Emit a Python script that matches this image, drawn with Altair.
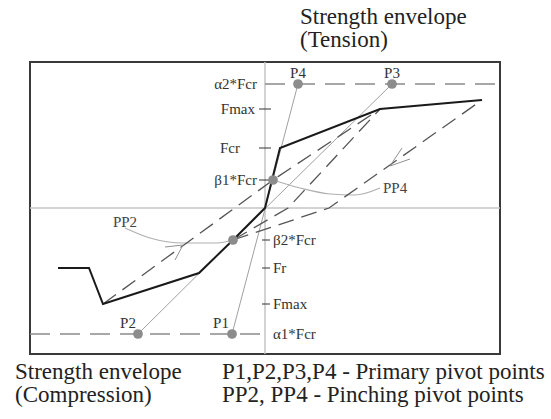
import altair as alt
import pandas as pd

# ---- data (deformation x, force y; arbitrary units) ----
env_x = [-20.7, -17.6, -16.2, -6.6, -3.2, 0.0, 1.5, 11.5, 21.7]
env_y = [-6.0, -6.0, -9.6, -6.5, -3.2, 0.0, 6.0, 9.9, 10.8]

pivot_names = ["P1", "P2", "P3", "P4"]
pivot_x = [-3.3, -12.7, 12.7, 3.3]
pivot_y = [-12.6, -12.6, 12.4, 12.4]
pivot_lx = [-4.4, -13.7, 12.7, 3.3]
pivot_ly = [-11.5, -11.5, 13.5, 13.5]

pinch_x = [0.8, -3.2]
pinch_y = [2.8, -3.2]

ray_x = [[3.3, -3.3], [12.7, -3.2], [-12.7, 0.0]]
ray_y = [[12.4, -12.6], [12.4, -3.2], [-12.6, 0.0]]

dash_x = [[-16.2, 0.8, 11.5], [-3.2, 2.3, 11.5], [-3.2, 6.4, 21.7]]
dash_y = [[-9.6, 2.8, 9.9], [-3.2, 0.0, 9.9], [-3.2, 0.0, 10.8]]

arrow_x = [[-10.0, -8.2, -9.0], [13.7, 12.5, 14.5]]
arrow_y = [[-3.9, -3.7, -5.2], [6.0, 4.2, 4.9]]

pp2_x = [-14.0, -11.5, -8.2, -4.8, -3.2]
pp2_y = [-2.0, -3.0, -3.5, -3.5, -3.2]
pp4_x = [0.8, 3.5, 6.5, 9.0, 11.5]
pp4_y = [2.8, 2.0, 1.4, 1.3, 2.0]

alpha_x1 = [0.0, -23.5]
alpha_x2 = [23.5, 0.0]
alpha_y = [12.4, -12.6]

tick_x1 = [-0.6, -0.6, -0.6, -0.3, -0.3, -0.3]
tick_x2 = [0.6, 0.6, 0.6, 0.5, 0.5, 0.5]
tick_y = [9.9, 6.0, 2.8, -3.2, -6.0, -9.6]

lab_text = ["α2*Fcr", "Fmax", "Fcr", "β1*Fcr", "β2*Fcr", "Fr", "Fmax", "α1*Fcr"]
lab_x = [-0.8, -1.0, -2.5, -0.8, 0.8, 0.8, 0.8, 0.8]
lab_y = [12.4, 9.9, 6.0, 2.8, -3.2, -6.0, -9.6, -12.6]
lab_align = ["right", "right", "right", "right", "left", "left", "left", "left"]

pp_text = ["PP2", "PP4"]
pp_x = [-14.0, 11.8]
pp_y = [-1.4, 2.0]
pp_align = ["center", "left"]

note_text = ["Strength envelope", "(Tension)", "Strength envelope", "(Compression)",
             "P1,P2,P3,P4 - Primary pivot points", "PP2, PP4 - Pinching pivot points"]
note_x = [3.5, 3.5, -25.0, -25.0, -4.3, -4.3]
note_y = [18.4, 16.1, -17.1, -19.4, -17.1, -19.4]

# ---- tables ----
xs = alt.Scale(domain=[-23.5, 23.5], nice=False, zero=False)
ys = alt.Scale(domain=[-14.6, 14.6], nice=False, zero=False)
X = alt.X("x:Q", scale=xs, axis=None)
Y = alt.Y("y:Q", scale=ys, axis=None)

def paths(xl, yl):
    rows = []
    for i, (px, py) in enumerate(zip(xl, yl)):
        for j, (a, b) in enumerate(zip(px, py)):
            rows.append({"g": i, "o": j, "x": a, "y": b})
    return pd.DataFrame(rows)

env_df = pd.DataFrame({"x": env_x, "y": env_y, "o": range(len(env_x))})
ray_df = paths(ray_x, ray_y)
dash_df = paths(dash_x, dash_y)
arrow_df = paths(arrow_x, arrow_y)
pp_df = paths([pp2_x, pp4_x], [pp2_y, pp4_y])
axis_df = pd.DataFrame({"x": [-23.5, 0.0], "x2": [23.5, 0.0], "y": [0.0, -14.6], "y2": [0.0, 14.6]})
alpha_df = pd.DataFrame({"x": alpha_x1, "x2": alpha_x2, "y": alpha_y})
tick_df = pd.DataFrame({"x": tick_x1, "x2": tick_x2, "y": tick_y})
pt_df = pd.DataFrame({"x": pivot_x + pinch_x, "y": pivot_y + pinch_y})
plab_df = pd.DataFrame({"t": pivot_names, "x": pivot_lx, "y": pivot_ly})
lab_df = pd.DataFrame({"t": lab_text, "x": lab_x, "y": lab_y, "a": lab_align})
pplab_df = pd.DataFrame({"t": pp_text, "x": pp_x, "y": pp_y, "a": pp_align})
note_df = pd.DataFrame({"t": note_text, "x": note_x, "y": note_y})

FONT = "Liberation Serif"

axes = alt.Chart(axis_df).mark_rule(color="#c4c4c4", strokeWidth=1.5).encode(
    x=X, x2="x2:Q", y=Y, y2="y2:Q")
alpha = alt.Chart(alpha_df).mark_rule(color="#8a8a8a", strokeWidth=1.5, strokeDash=[20, 10]).encode(
    x=X, x2="x2:Q", y=Y)
ticks = alt.Chart(tick_df).mark_rule(color="#333333", strokeWidth=1).encode(x=X, x2="x2:Q", y=Y)
rays = alt.Chart(ray_df).mark_line(color="#a0a0a0", strokeWidth=1).encode(
    x=X, y=Y, detail="g:N", order="o:Q")
pp = alt.Chart(pp_df).mark_line(color="#b0b0b0", strokeWidth=1.2, interpolate="monotone").encode(
    x=X, y=Y, detail="g:N", order="o:Q")
dash = alt.Chart(dash_df).mark_line(color="#555555", strokeWidth=1.3, strokeDash=[16, 8]).encode(
    x=X, y=Y, detail="g:N", order="o:Q")
arrows = alt.Chart(arrow_df).mark_line(color="#909090", strokeWidth=1).encode(
    x=X, y=Y, detail="g:N", order="o:Q")
env = alt.Chart(env_df).mark_line(color="#1a1a1a", strokeWidth=2).encode(x=X, y=Y, order="o:Q")
pts = alt.Chart(pt_df).mark_circle(color="#8c8c8c", opacity=1, size=95).encode(x=X, y=Y)
plab = alt.Chart(plab_df).mark_text(font=FONT, fontSize=15, color="#333333", baseline="middle").encode(
    x=X, y=Y, text="t:N")
labs_r = alt.Chart(lab_df).transform_filter("datum.a == 'right'").mark_text(
    font=FONT, fontSize=15, color="#333333", baseline="middle", align="right").encode(x=X, y=Y, text="t:N")
labs_l = alt.Chart(lab_df).transform_filter("datum.a == 'left'").mark_text(
    font=FONT, fontSize=15, color="#333333", baseline="middle", align="left").encode(x=X, y=Y, text="t:N")
pplab_c = alt.Chart(pplab_df).transform_filter("datum.a == 'center'").mark_text(
    font=FONT, fontSize=15, color="#444444", baseline="middle", align="center").encode(x=X, y=Y, text="t:N")
pplab_l = alt.Chart(pplab_df).transform_filter("datum.a == 'left'").mark_text(
    font=FONT, fontSize=15, color="#444444", baseline="middle", align="left").encode(x=X, y=Y, text="t:N")
notes = alt.Chart(note_df).mark_text(font=FONT, fontSize=23, color="#222222", baseline="alphabetic",
                                     align="left").encode(x=X, y=Y, text="t:N")

chart = alt.layer(axes, alpha, rays, pp, dash, arrows, env, ticks, pts, plab, labs_r, labs_l,
                  pplab_c, pplab_l, notes).properties(
    width=470, height=292,
    padding={"left": 30, "top": 62, "right": 51, "bottom": 65},
    autosize=alt.AutoSizeParams(type="none"),
    background="white",
).configure_view(stroke="#3a3a3a", strokeWidth=2)

chart.save("out.html", embed_options={"renderer": "svg", "actions": False})
